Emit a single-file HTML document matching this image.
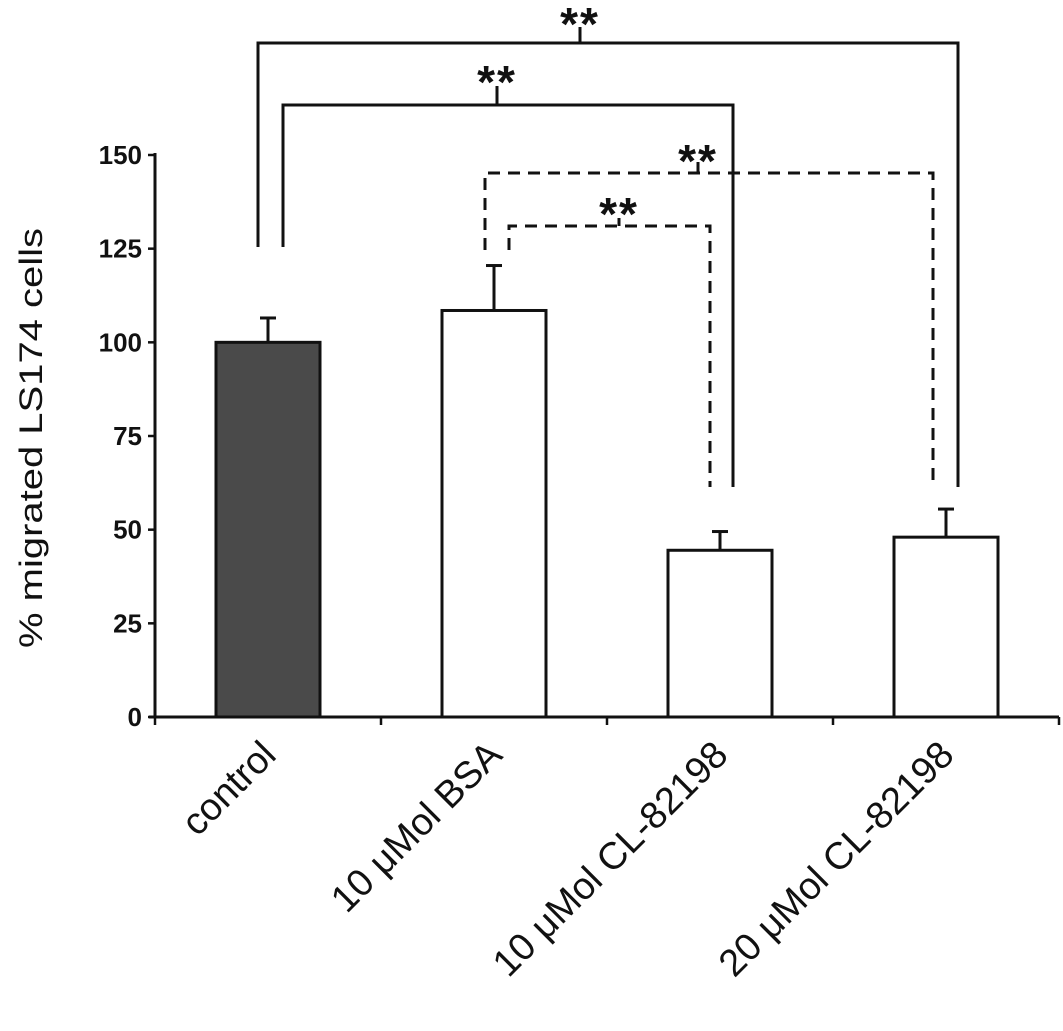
<!DOCTYPE html>
<html><head><meta charset="utf-8"><style>
body{margin:0;background:#fff}
svg{display:block;font-family:"Liberation Sans",Arial,sans-serif}
</style></head><body>
<svg id="chart" width="1063" height="1031" viewBox="0 0 1063 1031" xmlns="http://www.w3.org/2000/svg">
<g id="brackets" fill="none" stroke="#111" stroke-width="3">
<path d="M258 247 V43 H958 V487 M580 43 V27"/>
<path d="M283 247 V105 H733 V487 M497 105 V86"/>
<path stroke-dasharray="12 8" d="M485 250 V173 H933 V487"/>
<path d="M698 173 V162"/>
<path stroke-dasharray="12 8" d="M509 250 V226 H710 V487"/>
<path d="M619 226 V218"/>
</g>
<g font-size="46" font-weight="bold" fill="#111" text-anchor="middle" letter-spacing="2">
<text x="580" y="40">**</text>
<text x="497" y="98">**</text>
<text x="698" y="177">**</text>
<text x="619" y="230">**</text>
</g>
<text transform="translate(42,438) rotate(-90)" text-anchor="middle" font-size="32" fill="#111" textLength="420" lengthAdjust="spacingAndGlyphs">% migrated LS174 cells</text>
</svg>
<script>
const categories=["control","10 μMol BSA","10 μMol CL-82198","20 μMol CL-82198"];
const values=[100,108.5,44.5,48];
const errors=[6.5,12,5,7.5];
const yTicks=[0,25,50,75,100,125,150];
const svg=document.getElementById('chart');
const NS='http://www.w3.org/2000/svg';
const x0=155,x1=1059,y0=717,yTop=155,yMax=150;
const band=(x1-x0)/categories.length, bw=104;
const ys=v=>y0-(v/yMax)*(y0-yTop);
const xc=i=>x0+band*(i+0.5);
function mk(t,a,p){const e=document.createElementNS(NS,t);for(const k in a)e.setAttribute(k,a[k]);(p||svg).appendChild(e);return e;}
categories.forEach((c,i)=>{
  const cx=xc(i);
  const top=ys(values[i]+errors[i]);
  const eb=mk('line',{x1:cx,x2:cx,y1:ys(values[i]),y2:top,stroke:'#111','stroke-width':3});
  
  
  const cap=mk('line',{x1:cx-8,x2:cx+8,y1:top,y2:top,stroke:'#111','stroke-width':3});
  
  
  const r=mk('rect',{x:cx-bw/2,y:ys(values[i]),width:bw,height:y0-ys(values[i]),fill:i===0?'#4a4a4a':'#fff',stroke:'#111','stroke-width':3});
  
  
  const t=mk('text',{transform:`translate(${cx+10},${y0+40}) rotate(-45)`,'text-anchor':'end','font-size':38,fill:'#111'});
  t.textContent=c;
  
  
});
const yAxis=mk('line',{x1:x0,x2:x0,y1:yTop-2,y2:y0,stroke:'#111','stroke-width':3});


const xAxis=mk('line',{x1:x0-6,x2:x1,y1:y0,y2:y0,stroke:'#111','stroke-width':3});


for(let i=0;i<=categories.length;i++){
  const tx=x0+band*i;
  const tk=mk('line',{x1:tx,x2:tx,y1:y0,y2:y0+8,stroke:'#111','stroke-width':2.5});
  
  
}
yTicks.forEach(v=>{
  const y=ys(v);
  const tk=mk('line',{x1:x0-7,x2:x0,y1:y,y2:y,stroke:'#111','stroke-width':2.5});
  
  
  const t=mk('text',{x:x0-13,y:y+9,'text-anchor':'end','font-size':26,'font-weight':'bold',fill:'#111'});
  t.textContent=v;
  
  
});
</script>
</body></html>
